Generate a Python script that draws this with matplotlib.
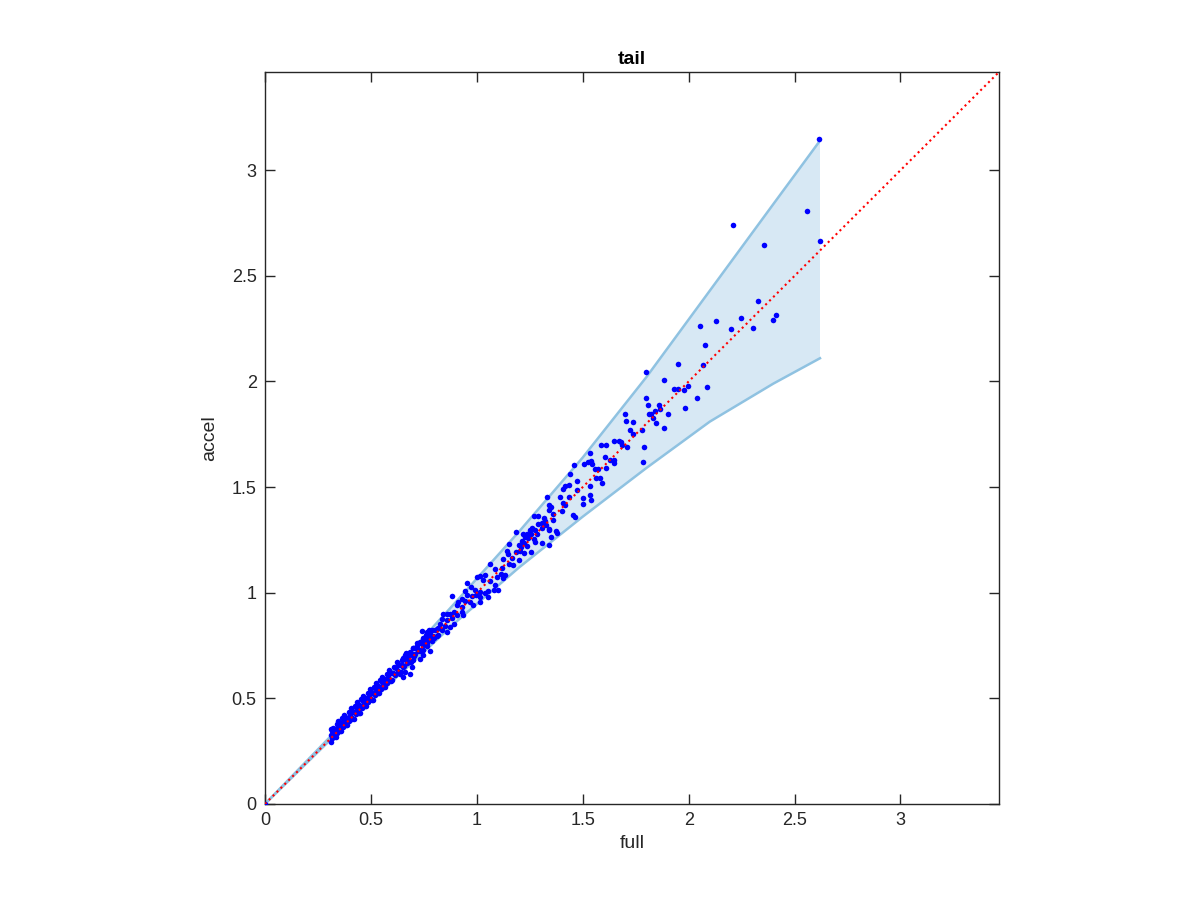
import numpy as np
import matplotlib as mpl
mpl.use("Agg")
import matplotlib.pyplot as plt

plt.rcParams['font.family'] = ['Liberation Sans', 'DejaVu Sans']

# confidence band
band_x = [0.0, 0.3, 0.6, 0.9, 1.2, 1.5, 1.8, 2.1, 2.4, 2.62]
band_hi = [0.0, 0.31, 0.625, 0.955, 1.29, 1.64, 2.02, 2.43, 2.84, 3.14]
band_lo = [0.0, 0.295, 0.58, 0.86, 1.12, 1.36, 1.59, 1.81, 1.99, 2.11]

# scatter points (full, accel)
full = [
    0.0,
    # dense cluster
    0.310, 0.312, 0.314, 0.316, 0.318, 0.320, 0.322, 0.325, 0.328, 0.330,
    0.333, 0.336, 0.338, 0.341, 0.344, 0.347, 0.350, 0.352, 0.355, 0.358,
    0.361, 0.363, 0.366, 0.369, 0.372, 0.375, 0.378, 0.380, 0.383, 0.386,
    0.389, 0.392, 0.395, 0.398, 0.401, 0.404, 0.407, 0.410, 0.413, 0.416,
    0.419, 0.422, 0.425, 0.428, 0.431, 0.434, 0.437, 0.440, 0.443, 0.446,
    0.449, 0.452, 0.455, 0.458, 0.461, 0.464, 0.467, 0.470, 0.473, 0.476,
    0.479, 0.482, 0.485, 0.488, 0.491, 0.494, 0.497, 0.500, 0.503, 0.506,
    0.509, 0.512, 0.515, 0.518, 0.521, 0.524, 0.527, 0.530, 0.533, 0.536,
    0.539, 0.542, 0.545, 0.548, 0.551, 0.554, 0.557, 0.560, 0.563, 0.566,
    0.569, 0.572, 0.575, 0.578, 0.581, 0.584, 0.587, 0.590, 0.594, 0.598,
    0.602, 0.606, 0.610, 0.614, 0.618, 0.622, 0.626, 0.630, 0.634, 0.638,
    0.642, 0.646, 0.650, 0.655, 0.660, 0.665, 0.670, 0.675, 0.680, 0.685,
    0.690, 0.695, 0.700, 0.705, 0.710, 0.716, 0.722, 0.728, 0.734, 0.740,
    0.746, 0.752, 0.758, 0.764, 0.770, 0.776, 0.782, 0.790, 0.796, 0.802,
    0.810, 0.818,
    # 0.63 - 1.13
    1.063, 1.087, 1.134, 1.095, 1.039, 1.016, 1.000, 1.031, 1.063, 1.087,
    1.079, 1.102, 1.055, 0.956, 0.972, 0.992, 1.016, 1.039, 0.882, 0.945,
    0.953, 0.977, 0.997, 1.016, 1.055, 0.929, 0.945, 0.913, 0.969, 1.016,
    0.906, 0.929, 0.984, 0.890, 0.874, 0.858, 0.842, 0.929, 0.937, 0.906,
    0.882, 0.835, 0.858, 0.890, 0.827, 0.850, 0.874, 0.811, 0.835, 0.858,
    0.740, 0.764, 0.780, 0.795, 0.819, 0.748, 0.767, 0.788, 0.732, 0.717,
    0.745, 0.764, 0.701, 0.732, 0.780, 0.685, 0.709, 0.748, 0.661, 0.677,
    0.701, 0.732, 0.646, 0.669, 0.693, 0.650, 0.661, 0.685, 0.638, 0.653,
    # 1.11 - 1.38
    1.331, 1.343, 1.350, 1.339, 1.362, 1.271, 1.287, 1.315, 1.362, 1.323,
    1.307, 1.291, 1.328, 1.307, 1.339, 1.343, 1.375, 1.378, 1.350, 1.339,
    1.276, 1.260, 1.249, 1.220, 1.236, 1.255, 1.284, 1.228, 1.244, 1.268,
    1.186, 1.213, 1.224, 1.276, 1.307, 1.154, 1.197, 1.208, 1.239, 1.142,
    1.186, 1.205, 1.224, 1.255, 1.145, 1.165, 1.197, 1.123, 1.150, 1.173,
    1.118, 1.113, 1.123,
    # 1.39 - 1.99
    1.950, 1.798, 1.885, 1.929, 1.948, 1.984, 1.800, 1.808, 1.860, 1.866,
    1.841, 1.811, 1.822, 1.832, 1.904, 1.847, 1.886, 1.698, 1.702, 1.737,
    1.721, 1.739, 1.781, 1.787, 1.786, 1.586, 1.608, 1.646, 1.672, 1.683,
    1.687, 1.709, 1.535, 1.605, 1.627, 1.646, 1.649, 1.458, 1.504, 1.523,
    1.539, 1.545, 1.556, 1.570, 1.611, 1.441, 1.562, 1.583, 1.589, 1.473,
    1.532, 1.417, 1.436, 1.406, 1.473, 1.534, 1.539, 1.499, 1.433, 1.394,
    1.409, 1.417, 1.501, 1.402, 1.454, 1.463,
    # tail
    2.616, 2.559, 2.211, 2.354, 2.622, 2.328, 2.127, 2.249, 2.052, 2.200,
    2.302, 2.413, 2.400, 2.075, 2.066, 1.995, 1.979, 2.088, 2.040,
]
accel = [
    0.0,
    # dense cluster
    0.294, 0.326, 0.354, 0.312, 0.344, 0.360, 0.326, 0.357, 0.318, 0.350,
    0.317, 0.350, 0.378, 0.337, 0.370, 0.395, 0.354, 0.384, 0.345, 0.378,
    0.345, 0.377, 0.406, 0.365, 0.398, 0.423, 0.382, 0.412, 0.373, 0.406,
    0.373, 0.406, 0.435, 0.394, 0.427, 0.452, 0.411, 0.442, 0.403, 0.436,
    0.403, 0.436, 0.465, 0.424, 0.457, 0.482, 0.441, 0.472, 0.433, 0.466,
    0.433, 0.466, 0.495, 0.454, 0.487, 0.512, 0.471, 0.502, 0.463, 0.496,
    0.463, 0.496, 0.525, 0.484, 0.517, 0.542, 0.501, 0.532, 0.493, 0.526,
    0.493, 0.526, 0.555, 0.514, 0.547, 0.572, 0.531, 0.562, 0.523, 0.556,
    0.523, 0.556, 0.585, 0.544, 0.577, 0.602, 0.561, 0.592, 0.553, 0.586,
    0.553, 0.586, 0.615, 0.574, 0.607, 0.632, 0.591, 0.622, 0.584, 0.618,
    0.586, 0.620, 0.650, 0.610, 0.644, 0.670, 0.630, 0.662, 0.624, 0.658,
    0.626, 0.660, 0.690, 0.651, 0.686, 0.713, 0.674, 0.707, 0.670, 0.705,
    0.674, 0.709, 0.740, 0.701, 0.736, 0.764, 0.726, 0.760, 0.724, 0.760,
    0.730, 0.766, 0.798, 0.760, 0.796, 0.824, 0.786, 0.822, 0.786, 0.822,
    0.794, 0.832,
    # 0.63 - 1.13
    1.134, 1.113, 1.082, 1.074, 1.082, 1.077, 1.074, 1.058, 1.055, 1.035,
    1.011, 1.014, 1.008, 1.046, 1.027, 1.014, 1.003, 0.998, 0.984, 1.008,
    0.987, 0.983, 0.987, 0.979, 0.979, 0.972, 0.960, 0.956, 0.956, 0.956,
    0.940, 0.932, 0.940, 0.909, 0.901, 0.898, 0.901, 0.909, 0.893, 0.893,
    0.882, 0.877, 0.869, 0.854, 0.854, 0.841, 0.838, 0.830, 0.822, 0.814,
    0.819, 0.814, 0.803, 0.794, 0.798, 0.788, 0.778, 0.772, 0.767, 0.746,
    0.751, 0.746, 0.740, 0.728, 0.724, 0.720, 0.712, 0.704, 0.704, 0.688,
    0.680, 0.688, 0.680, 0.665, 0.649, 0.649, 0.625, 0.617, 0.617, 0.601,
    # 1.11 - 1.38
    1.455, 1.417, 1.405, 1.392, 1.373, 1.365, 1.365, 1.354, 1.345, 1.338,
    1.329, 1.323, 1.321, 1.305, 1.302, 1.298, 1.294, 1.282, 1.263, 1.228,
    1.298, 1.305, 1.298, 1.279, 1.279, 1.279, 1.276, 1.263, 1.260, 1.255,
    1.286, 1.247, 1.235, 1.239, 1.235, 1.232, 1.227, 1.216, 1.219, 1.197,
    1.192, 1.197, 1.187, 1.192, 1.181, 1.166, 1.156, 1.161, 1.137, 1.129,
    1.118, 1.090, 1.071,
    # 1.39 - 1.99
    2.082, 2.044, 2.008, 1.964, 1.964, 1.874, 1.920, 1.891, 1.891, 1.869,
    1.858, 1.846, 1.846, 1.828, 1.846, 1.805, 1.778, 1.846, 1.811, 1.806,
    1.772, 1.751, 1.772, 1.691, 1.617, 1.701, 1.701, 1.716, 1.720, 1.714,
    1.698, 1.691, 1.660, 1.644, 1.628, 1.628, 1.612, 1.605, 1.611, 1.620,
    1.625, 1.611, 1.586, 1.586, 1.592, 1.562, 1.545, 1.545, 1.521, 1.529,
    1.507, 1.507, 1.510, 1.491, 1.487, 1.461, 1.440, 1.449, 1.452, 1.455,
    1.423, 1.416, 1.421, 1.386, 1.370, 1.357,
    # tail
    3.146, 2.805, 2.740, 2.646, 2.665, 2.381, 2.287, 2.301, 2.262, 2.250,
    2.252, 2.314, 2.291, 2.175, 2.079, 1.980, 1.959, 1.973, 1.920,
]

ticks = [0, 0.5, 1, 1.5, 2, 2.5, 3]
tick_labels = ['0', '0.5', '1', '1.5', '2', '2.5', '3']
lim = 3.465

fig = plt.figure(figsize=(12, 9), dpi=100)
ax = fig.add_axes([0.2208, 0.1067, 0.6117, 0.8133])

band_face = '#d7e8f4'
band_edge = '#8fc2e1'
ax.fill_between(band_x, band_lo, band_hi, facecolor=band_face, edgecolor='none', zorder=1)
ax.plot(band_x, band_hi, color=band_edge, lw=1.8, zorder=2)
ax.plot(band_x, band_lo, color=band_edge, lw=1.8, zorder=2)

ax.plot(full, accel, 'o', color='blue', ms=4.0, mew=0, zorder=3)
ax.plot([0, lim], [0, lim], ':', color='red', lw=1.5, zorder=4)

ax.set_xlim(0, lim)
ax.set_ylim(0, lim)
ax.set_xticks(ticks)
ax.set_xticklabels(tick_labels)
ax.set_yticks(ticks)
ax.set_yticklabels(tick_labels)

axcol = '#262626'
ax.tick_params(direction='in', length=7, width=1, colors=axcol, labelsize=13,
               top=True, right=True, pad=6)
for s in ax.spines.values():
    s.set_color(axcol)
    s.set_linewidth(1)

ax.set_xlabel('full', fontsize=14, color=axcol, labelpad=4)
ax.set_ylabel('accel', fontsize=14, color=axcol, labelpad=10)
ax.set_title('tail', fontsize=14, fontweight='bold', pad=6)

plt.savefig('out.png', dpi=100)
